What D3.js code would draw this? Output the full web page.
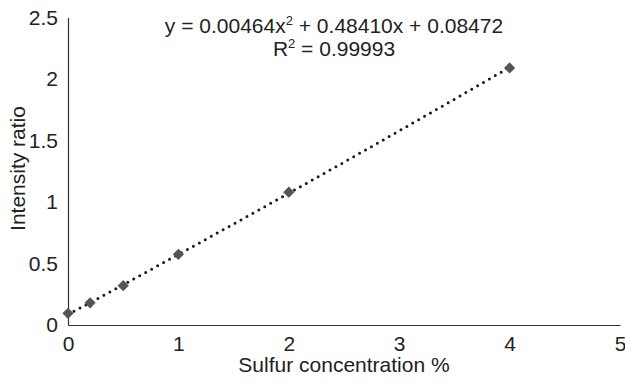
<!DOCTYPE html>
<html>
<head>
<meta charset="utf-8">
<script src="https://cdn.jsdelivr.net/npm/d3@7"></script>
<style>
  body { margin: 0; background: #fff; }
  text { font-family: "Liberation Sans", Arial, sans-serif; fill: #222; }
</style>
</head>
<body>
<div id="chart"></div>
<script>
// measured points
const conc = [0, 0.2, 0.5, 1, 2, 4];
const ratio = [0.095, 0.18, 0.32, 0.575, 1.08, 2.09];
// trendline coefficients (quadratic)
const coef = [0.08472, 0.48410, 0.00464];
const xTicks = [0, 1, 2, 3, 4, 5];
const yTicks = [0, 0.5, 1, 1.5, 2, 2.5];

const W = 625, H = 382;
const margin = { top: 17.5, right: 5, bottom: 57, left: 68 };
const width = W - margin.left - margin.right;
const height = H - margin.top - margin.bottom;
const fs = 21;

const svg = d3.select("#chart").append("svg")
  .attr("width", W).attr("height", H)
  .append("g")
  .attr("transform", `translate(${margin.left},${margin.top})`);

const x = d3.scaleLinear().domain([0, 5]).range([0, 552]);
const y = d3.scaleLinear().domain([0, 2.5]).range([height, 0]);

// axes
const xAxis = svg.append("g")
  .attr("transform", `translate(0,${height})`)
  .call(d3.axisBottom(x).tickValues(xTicks).tickSize(0).tickPadding(11).tickFormat(d3.format("")));
const yAxis = svg.append("g")
  .call(d3.axisLeft(y).tickValues(yTicks).tickSize(0).tickPadding(10).tickFormat(d3.format("")));

[xAxis, yAxis].forEach(a => {
  a.select(".domain").attr("stroke", "#333").attr("stroke-width", 1.2);
  a.selectAll("text").attr("font-size", fs).attr("fill", "#222")
    .style("font-family", "'Liberation Sans', Arial, sans-serif");
});

// trendline
const line = d3.line()
  .x(d => x(d))
  .y(d => y(coef[0] + coef[1] * d + coef[2] * d * d));
svg.append("path")
  .datum(d3.range(0, 4.0001, 0.05))
  .attr("d", line)
  .attr("fill", "none")
  .attr("stroke", "#1a1a1a")
  .attr("stroke-width", 3)
  .attr("stroke-linecap", "round")
  .attr("stroke-dasharray", "0 6.8");

// markers
const diamond = d3.symbol().type(d3.symbolDiamond2).size(80);
svg.selectAll(".pt")
  .data(conc.map((c, i) => ({ c, r: ratio[i] })))
  .join("path")
  .attr("class", "pt")
  .attr("d", diamond)
  .attr("transform", d => `translate(${x(d.c)},${y(d.r)})`)
  .attr("fill", "#555");

// equation
svg.append("text")
  .attr("x", 266).attr("y", 15.5)
  .attr("text-anchor", "middle").attr("font-size", fs)
  .html('y = 0.00464x<tspan font-size="13" dy="-8">2</tspan><tspan dy="8"> + 0.48410x + 0.08472</tspan>');
svg.append("text")
  .attr("x", 266).attr("y", 38.5)
  .attr("text-anchor", "middle").attr("font-size", fs)
  .html('R<tspan font-size="13" dy="-8">2</tspan><tspan dy="8"> = 0.99993</tspan>');

// axis titles
svg.append("text")
  .attr("x", x(2.5)).attr("y", height + 47)
  .attr("text-anchor", "middle").attr("font-size", fs)
  .text("Sulfur concentration %");
svg.append("text")
  .attr("transform", `translate(-43,151) rotate(-90)`)
  .attr("text-anchor", "middle").attr("font-size", fs)
  .text("Intensity ratio");
</script>
</body>
</html>
